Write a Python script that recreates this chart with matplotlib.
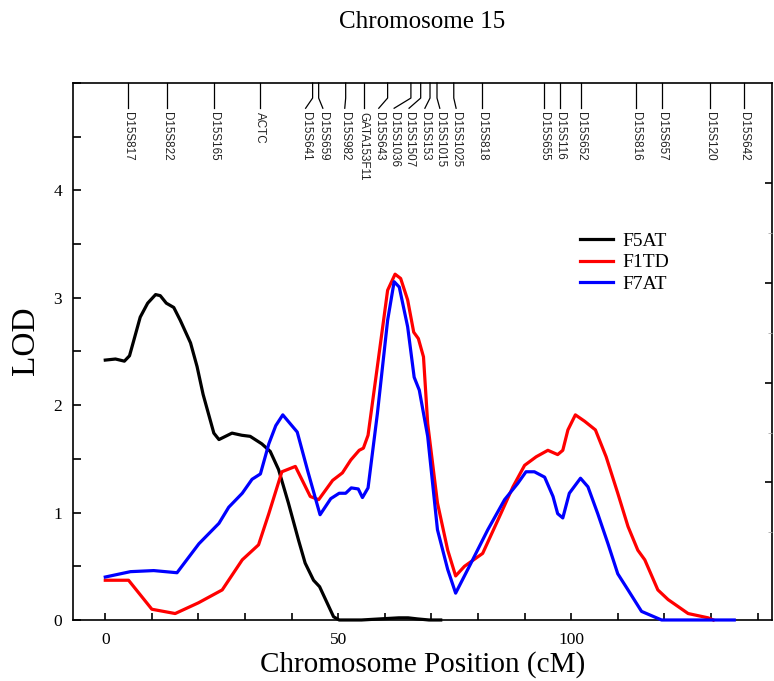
import matplotlib
matplotlib.use("Agg")
import matplotlib.pyplot as plt
from matplotlib.ticker import MultipleLocator, FixedLocator, NullFormatter

# LOD curves (position in cM, LOD)
f5at_x = [0, 2.2, 4.1, 5.2, 6.1, 7.5, 9.1, 10.8, 11.8, 13.1, 14.7, 16.1, 18.3, 19.7, 21.0,
          23.3, 24.4, 27.2, 29.3, 31.1, 33.6, 35.4, 37.2, 39.3, 41.5, 42.9, 44.7, 46.0,
          49.0, 50.2, 55, 59, 63, 65, 67, 69.5, 72]
f5at_y = [2.42, 2.43, 2.41, 2.46, 2.60, 2.82, 2.95, 3.03, 3.02, 2.95, 2.91, 2.79, 2.58, 2.36, 2.10,
          1.74, 1.68, 1.74, 1.72, 1.71, 1.64, 1.57, 1.40, 1.09, 0.74, 0.53, 0.37, 0.31,
          0.03, 0.0, 0.0, 0.01, 0.02, 0.02, 0.01, 0.0, 0.0]

f1td_x = [0, 5.0, 10.0, 15.0, 20.0, 25.1, 29.4, 32.9, 35.1, 37.9, 40.8, 44.0, 45.8, 48.8, 50.9,
          52.7, 54.5, 55.4, 56.4, 58.4, 60.6, 62.2, 63.4, 64.9, 66.2, 67.2, 68.3, 69.2, 71.3,
          73.5, 75.2, 77.1, 81.0, 84.9, 87.5, 90.0, 92.5, 95.0, 97.1, 98.2, 99.3, 100.9, 102.9,
          105.2, 107.5, 110.0, 112.2, 114.3, 115.8, 118.6, 120.8, 125.1, 129.4, 130.5]
f1td_y = [0.37, 0.37, 0.10, 0.06, 0.16, 0.28, 0.56, 0.70, 0.99, 1.38, 1.43, 1.15, 1.12, 1.30, 1.37,
          1.49, 1.58, 1.60, 1.72, 2.36, 3.07, 3.22, 3.18, 2.98, 2.68, 2.62, 2.45, 1.83, 1.09,
          0.65, 0.41, 0.50, 0.62, 0.99, 1.24, 1.44, 1.52, 1.58, 1.54, 1.58, 1.77, 1.91, 1.85,
          1.77, 1.52, 1.18, 0.87, 0.65, 0.56, 0.28, 0.19, 0.06, 0.02, 0.0]

f7at_x = [0, 5.4, 10.4, 15.4, 20.1, 24.4, 26.5, 29.4, 31.5, 33.3, 35.1, 36.6, 38.1, 41.2, 43.5,
          46.1, 48.4, 50.2, 51.6, 52.8, 54.3, 55.2, 56.4, 58.4, 60.6, 62.0, 63.1, 64.9, 66.3,
          67.4, 69.2, 71.3, 73.5, 75.2, 78.5, 82.1, 85.7, 88.5, 90.3, 92.1, 94.3, 96.1, 97.1,
          98.2, 99.6, 102.0, 103.6, 105.7, 107.9, 110.0, 112.2, 115.1, 119.4, 135.0]
f7at_y = [0.40, 0.45, 0.46, 0.44, 0.71, 0.90, 1.05, 1.18, 1.31, 1.36, 1.64, 1.81, 1.91, 1.75, 1.38,
          0.98, 1.13, 1.18, 1.18, 1.23, 1.22, 1.14, 1.23, 1.92, 2.79, 3.15, 3.10, 2.73, 2.26,
          2.14, 1.71, 0.84, 0.47, 0.25, 0.53, 0.84, 1.12, 1.27, 1.38, 1.38, 1.33, 1.15, 0.99,
          0.95, 1.18, 1.32, 1.24, 0.99, 0.71, 0.43, 0.28, 0.08, 0.0, 0.0]

# markers along the top (position in cM)
marker_names = ["D15S817", "D15S822", "D15S165", "ACTC", "D15S641", "D15S659", "D15S982",
                "GATA153F11", "D15S643", "D15S1036", "D15S1507", "D15S153", "D15S1015",
                "D15S1025", "D15S818", "D15S655", "D15S116", "D15S652", "D15S816", "D15S657",
                "D15S120", "D15S642"]
marker_pos = [4.9, 13.3, 23.4, 33.3, 44.5, 45.8, 51.6, 55.5, 60.6, 65.6, 67.7, 69.7, 71.2,
              74.8, 80.9, 94.2, 97.6, 102.2, 114.0, 119.4, 129.7, 137.2]
# where the labels end up after the little bent connectors
label_pos = [4.9, 13.3, 23.4, 33.3, 43.0, 46.7, 51.4, 55.5, 58.7, 62.0, 65.2, 68.6, 71.8,
             75.3, 80.9, 94.2, 97.6, 102.2, 114.0, 119.4, 129.7, 137.2]

plt.rcParams['font.family'] = 'Liberation Serif'
plt.rcParams['axes.linewidth'] = 1.2

fig = plt.figure(figsize=(7.74, 6.81), dpi=100)
ax = fig.add_axes([0.0943, 0.0896, 0.9031, 0.7885])

ax.plot(f5at_x, f5at_y, color='black', lw=2.3, label='F5AT', clip_on=False, zorder=3)
ax.plot(f1td_x, f1td_y, color='#ff0000', lw=2.3, label='F1TD', clip_on=False, zorder=4)
ax.plot(f7at_x, f7at_y, color='#0000ff', lw=2.3, label='F7AT', clip_on=False, zorder=5)

ax.set_xlim(-6.93, 143.1)
ax.set_ylim(0, 5)

ax.xaxis.set_major_locator(FixedLocator([0, 50, 100]))
ax.xaxis.set_minor_locator(MultipleLocator(10))
ax.yaxis.set_major_locator(FixedLocator([0, 1, 2, 3, 4]))
ax.yaxis.set_minor_locator(MultipleLocator(0.5))
ax.tick_params(axis='both', which='both', direction='in', width=1.2, labelsize=12.5)
ax.tick_params(axis='x', which='both', length=5, pad=9, top=False)
ax.tick_params(axis='y', which='both', length=6, pad=8)

# right-hand ticks (from a second scale in the original, labels cut off)
ax2 = ax.twinx()
ax2.set_ylim(0, 5.37)
ax2.yaxis.set_major_locator(FixedLocator([1.38, 2.37, 3.37, 4.37]))
ax2.yaxis.set_minor_locator(FixedLocator([0.88, 1.87, 2.87, 3.87]))
ax2.yaxis.set_major_formatter(NullFormatter())
ax2.tick_params(axis='y', which='major', direction='in', length=5, width=1.2)
ax2.tick_params(axis='y', which='minor', direction='in', length=3, width=0.6, color='#aaaaaa')
for s in ax2.spines.values():
    s.set_visible(False)

ax.set_xlabel('Chromosome Position (cM)', fontsize=21, labelpad=2)
ax.set_ylabel('LOD', fontsize=24)
ax.yaxis.set_label_coords(-0.046, 0.52)

fig.text(0.545, 1 - 22 / 681, 'Chromosome 15', fontsize=18, ha='center', va='center')

# marker ticks hanging from the top spine
xt = ax.get_xaxis_transform()
for name, mp, lp in zip(marker_names, marker_pos, label_pos):
    ax.plot([mp, mp, lp], [1.0, 0.972, 0.953], color='black', lw=0.9,
            transform=xt, clip_on=False, zorder=6)
    ax.text(lp, 0.946, name, transform=xt, rotation=270, ha='center', va='top',
            fontsize=8.4, family='Liberation Sans', color='#222222')

ax.legend(loc='upper left', bbox_to_anchor=(0.725, 0.722), frameon=False, fontsize=14,
          handlelength=1.7, handletextpad=0.5, labelspacing=0.2, borderpad=0,
          borderaxespad=0)

fig.savefig('out.png', dpi=100)
